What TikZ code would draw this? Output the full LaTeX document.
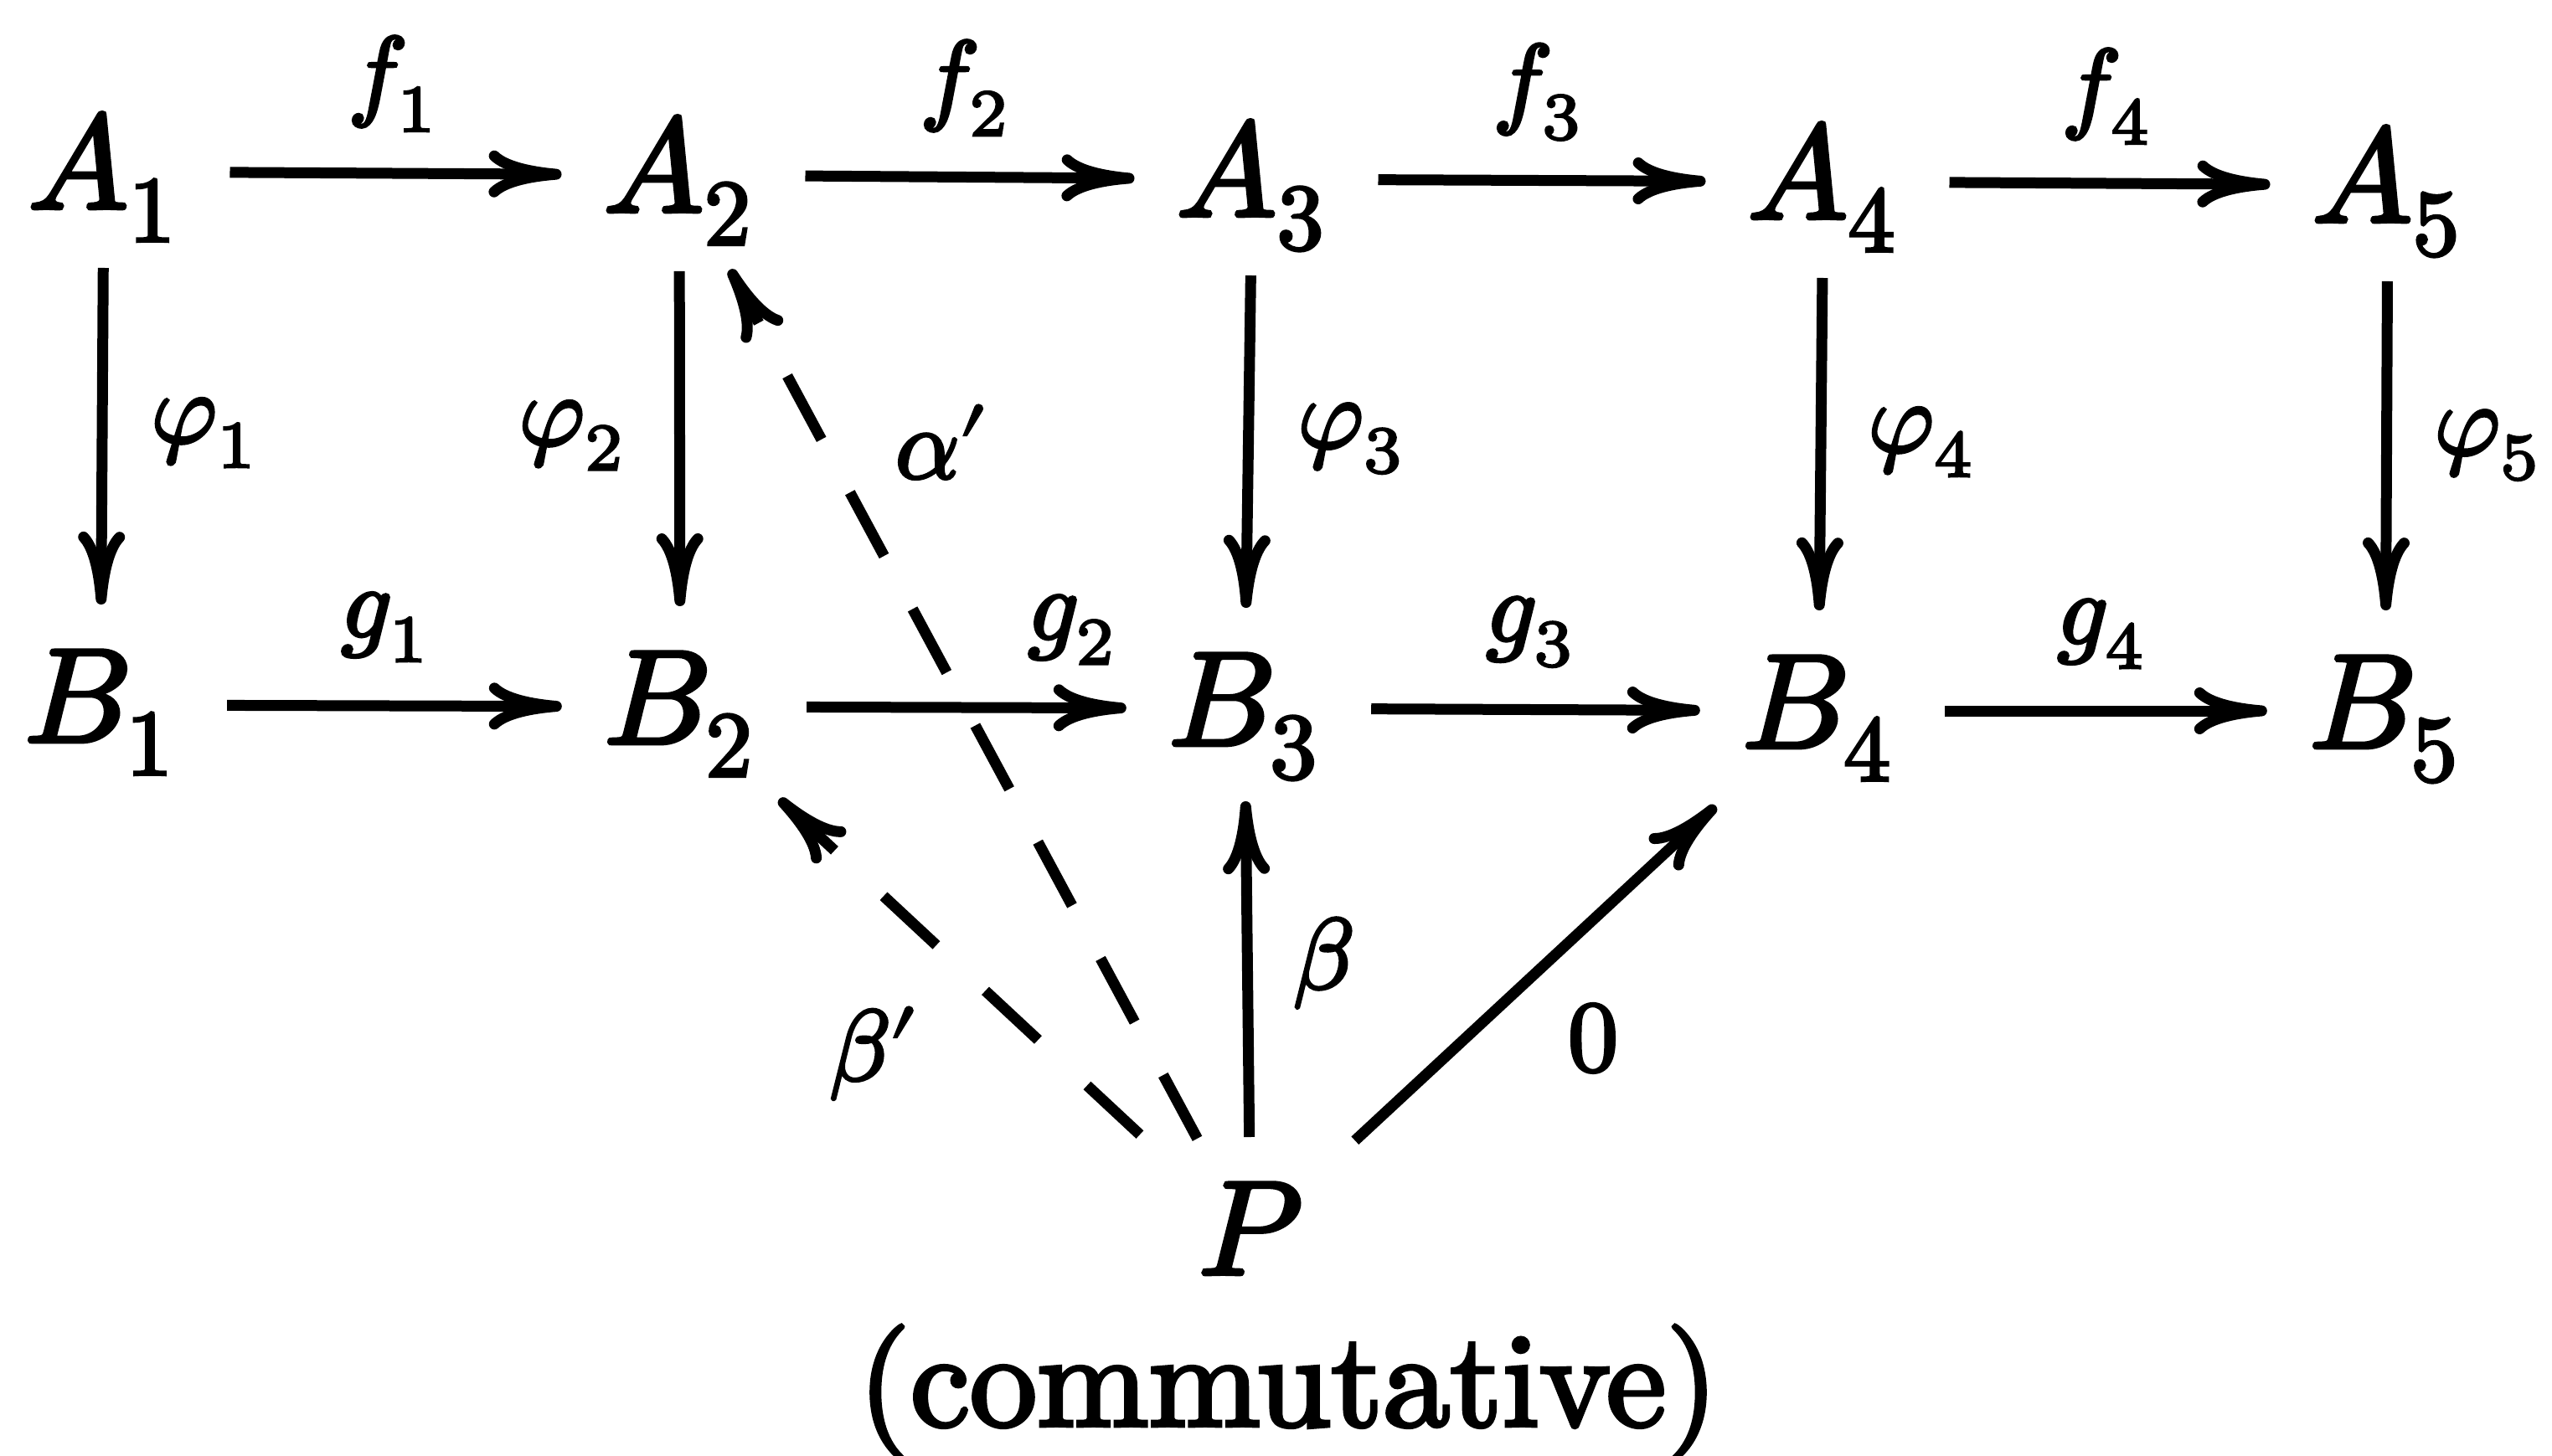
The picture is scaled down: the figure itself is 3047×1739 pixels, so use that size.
\documentclass[tikz,border=0pt]{standalone}
\usepackage{fontspec}
\usepackage{unicode-math}
\setmainfont{lmroman10-regular.otf}[FakeBold=3]
\setmathfont{latinmodern-math.otf}[FakeBold=3]
\usetikzlibrary{arrows.meta}
\begin{document}
\begin{tikzpicture}[x=0.1pt,y=-0.1pt,
  obj/.style={inner sep=0pt, outer sep=0pt, minimum width=17.6pt, text height=11.2pt, text depth=2.4pt, anchor=base, font=\fontsize{16}{19}\selectfont},
  pobj/.style={obj, minimum width=0pt},
  lab/.style={inner sep=0pt, outer sep=0pt, font=\fontsize{12}{14}\selectfont},
  arr/.style={line width=1.3pt, -{Computer Modern Rightarrow[length=8.7pt,width=5.6pt]}},
  harr/.style={arr, shorten <=6pt, shorten >=5pt},
  varr/.style={arr, shorten <=4.7pt, shorten >=5.2pt},
  dsha/.style={dash pattern=on 8.6pt off 7.2pt},
  dshb/.style={dash pattern=on 8.6pt off 8.0pt}]
\useasboundingbox (0,0) rectangle (3047,1739);

% objects
\node[obj] (a1) at (124,249) {$A_1$};
\node[obj] (a2) at (811,253) {$A_2$};
\node[obj] (a3) at (1495,258) {$A_3$};
\node[obj] (a4) at (2177,261) {$A_4$};
\node[obj] (a5) at (2851,265) {$A_5$};
\node[obj] (b1) at (120,886) {$B_1$};
\node[obj] (b2) at (812,888) {$B_2$};
\node[obj] (b3) at (1486,890) {$B_3$};
\node[obj] (b4) at (2171,893) {$B_4$};
\node[obj] (b5) at (2848,893) {$B_5$};
\node[pobj] (p) at (1493,1522) {$P$};
\node[inner sep=0pt, anchor=base, font=\fontsize{16}{19}\selectfont] (comm) at (1538,1703) {(commutative)};

% top row
\draw[harr] (a1) -- (a2);
\draw[harr] (a2) -- (a3);
\draw[harr] (a3) -- (a4);
\draw[harr] (a4) -- (a5);
% bottom row
\draw[harr] (b1) -- (b2);
\draw[harr] (b2) -- (b3);
\draw[harr] (b3) -- (b4);
\draw[harr] (b4) -- (b5);
% verticals
\draw[varr] (a1) -- (b1);
\draw[varr] (a2) -- (b2);
\draw[varr] (a3) -- (b3);
\draw[varr] (a4) -- (b4);
\draw[varr] (a5) -- (b5);
% from P
\draw[arr, dsha, shorten <=5.7pt, shorten >=5.1pt] (p) -- (a2);
\draw[arr, dshb, shorten <=9.5pt, shorten >=6.2pt] (p) -- (b2);
\draw[arr, shorten <=5.2pt, shorten >=4.3pt] (p) -- (b3);
\draw[arr, shorten <=8.5pt, shorten >=6.7pt] (p) -- (b4);

% labels
\node[lab] (lf1) at (470,100) {$f_1$};
\node[lab] (lf2) at (1153,105) {$f_2$};
\node[lab] (lf3) at (1837,110) {$f_3$};
\node[lab] (lf4) at (2516,115) {$f_4$};
\node[lab] (lg1) at (461,749) {$g_1$};
\node[lab] (lg2) at (1281,752) {$g_2$};
\node[lab] (lg3) at (1828,755) {$g_3$};
\node[lab] (lg4) at (2510,757) {$g_4$};
\node[lab] (lp1) at (245,517) {$\varphi_1$};
\node[lab] (lp2) at (684,520) {$\varphi_2$};
\node[lab] (lp3) at (1614,524) {$\varphi_3$};
\node[lab] (lp4) at (2295,528) {$\varphi_4$};
\node[lab] (lp5) at (2971,532) {$\varphi_5$};
\node[lab] (lal) at (1126,528) {$\alpha'$};
\node[lab] (lbp) at (1045,1258) {$\beta'$};
\node[lab] (lb) at (1580,1150) {$\beta$};
\node[lab] (lz) at (1902,1240) {$0$};
\end{tikzpicture}
\end{document}
